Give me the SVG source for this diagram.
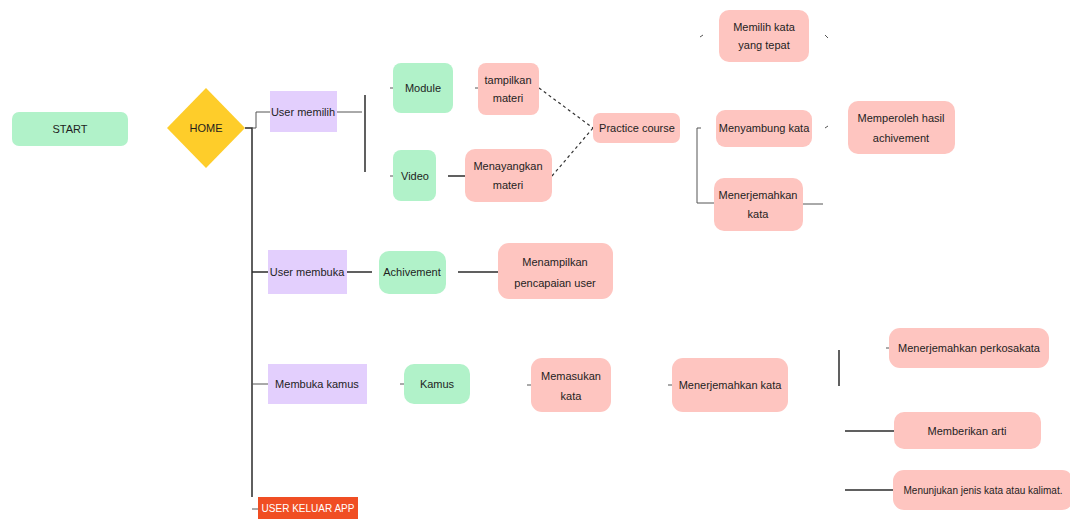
<svg xmlns="http://www.w3.org/2000/svg" width="1070" height="520" viewBox="0 0 1070 520">
<style>
text{font-family:"Liberation Sans",Arial,sans-serif;font-size:11px;fill:#1e1e1e;text-anchor:middle;dominant-baseline:central}
.s{font-size:10px}
.g{fill:#b1f2c9}
.p{fill:#fec5c0}
.v{fill:#e3cffd}
.c{fill:none;stroke:#2b2b2b;stroke-width:1.5}
.t{fill:none;stroke:#555;stroke-width:1}
.d{fill:none;stroke:#333;stroke-width:1.2;stroke-dasharray:3 3}
</style>
<rect width="1070" height="520" fill="#fff"/>
<g id="connectors">
<path class="c" d="M245 128 H252 V497"/>
<path class="t" d="M252 128 H256 V112 H270"/>
<path class="c" d="M252 272 H268"/>
<path class="t" d="M252 384 H268"/>
<path class="t" d="M252 509 H258"/>
<path class="t" d="M337 112 H362"/>
<path class="c" d="M365 95 V172"/>
<path class="t" d="M390 88 H393"/>
<path class="t" d="M390 176 H393"/>
<path class="t" d="M475 88 H478"/>
<path class="c" d="M448 176 H465"/>
<path class="d" d="M539 88 L593 128"/>
<path class="d" d="M552 176 L593 128"/>
<path class="t" d="M697 128 V203 H714"/>
<path class="t" d="M697 128 H701"/>
<path class="t" d="M700 37 L703 35"/>
<path class="t" d="M825 35 L828 38"/>
<path class="t" d="M825 128 L828 126"/>
<path class="t" d="M803 204 H823"/>
<path class="c" d="M347 272 H372"/>
<path class="c" d="M458 272 H498"/>
<path class="t" d="M400 384 H404"/>
<path class="t" d="M527 385 H531"/>
<path class="t" d="M668 385 H672"/>
<path class="c" d="M839 350 V386"/>
<path class="t" d="M886 348 H889"/>
<path class="c" d="M845 431 H894"/>
<path class="c" d="M845 490 H893"/>
</g>
<g id="start"><rect class="g" x="12" y="112" width="116" height="34" rx="7"/><text x="70" y="129">START</text></g>
<g id="home"><polygon points="206,88 245,128 206,168 167,128" fill="#fecd2a"/><text x="206" y="128">HOME</text></g>
<g id="user-memilih"><rect class="v" x="270" y="91" width="67" height="41"/><text x="303" y="112">User memilih</text></g>
<g id="module"><rect class="g" x="393" y="63" width="60" height="50" rx="8"/><text x="423" y="88">Module</text></g>
<g id="video"><rect class="g" x="393" y="150" width="43" height="51" rx="8"/><text x="415" y="176">Video</text></g>
<g id="tampilkan-materi"><rect class="p" x="478" y="63" width="61" height="52" rx="8"/><text x="508" y="80">tampilkan</text><text x="508" y="98">materi</text></g>
<g id="menayangkan-materi"><rect class="p" x="465" y="149" width="87" height="53" rx="10"/><text x="508" y="166">Menayangkan</text><text x="508" y="185">materi</text></g>
<g id="practice-course"><rect class="p" x="593" y="113" width="87" height="30" rx="7"/><text x="637" y="128">Practice course</text></g>
<g id="memilih-kata"><rect class="p" x="719" y="10" width="90" height="52" rx="10"/><text x="764" y="27">Memilih kata</text><text x="764" y="45">yang tepat</text></g>
<g id="menyambung-kata"><rect class="p" x="716" y="110" width="96" height="37" rx="9"/><text x="764" y="128">Menyambung kata</text></g>
<g id="menerjemahkan-kata-1"><rect class="p" x="714" y="178" width="89" height="53" rx="10"/><text x="758" y="195">Menerjemahkan</text><text x="758" y="214">kata</text></g>
<g id="memperoleh"><rect class="p" x="848" y="101" width="107" height="53" rx="10"/><text x="901" y="118">Memperoleh hasil</text><text x="901" y="138">achivement</text></g>
<g id="user-membuka"><rect class="v" x="268" y="250" width="79" height="44"/><text x="307" y="272">User membuka</text></g>
<g id="achivement"><rect class="g" x="379" y="251" width="67" height="43" rx="10"/><text x="412" y="272">Achivement</text></g>
<g id="menampilkan"><rect class="p" x="498" y="243" width="115" height="56" rx="11"/><text x="555" y="262">Menampilkan</text><text x="555" y="283">pencapaian user</text></g>
<g id="membuka-kamus"><rect class="v" x="268" y="364" width="99" height="40"/><text x="317" y="384">Membuka kamus</text></g>
<g id="kamus"><rect class="g" x="404" y="364" width="66" height="40" rx="10"/><text x="437" y="384">Kamus</text></g>
<g id="memasukan-kata"><rect class="p" x="531" y="358" width="80" height="54" rx="11"/><text x="571" y="376">Memasukan</text><text x="571" y="396">kata</text></g>
<g id="menerjemahkan-kata-2"><rect class="p" x="672" y="358" width="116" height="54" rx="11"/><text x="730" y="385">Menerjemahkan kata</text></g>
<g id="menerjemahkan-perkosakata"><rect class="p" x="889" y="328" width="160" height="40" rx="11"/><text x="969" y="348">Menerjemahkan perkosakata</text></g>
<g id="memberikan-arti"><rect class="p" x="894" y="412" width="147" height="37" rx="10"/><text x="967" y="431">Memberikan arti</text></g>
<g id="menunjukan"><rect class="p" x="893" y="470" width="180" height="40" rx="11"/><text class="s" x="983" y="490">Menunjukan jenis kata atau kalimat.</text></g>
<g id="user-keluar"><rect x="258" y="497" width="100" height="22" fill="#f04e23"/><text class="s" x="308" y="508" style="fill:#fff">USER KELUAR APP</text></g>
</svg>
